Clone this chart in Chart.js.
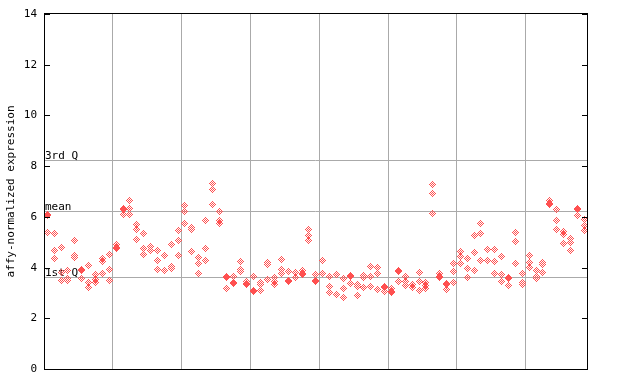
<!DOCTYPE html>
<html>
<head>
<meta charset="utf-8">
<script src="https://cdn.jsdelivr.net/npm/chart.js@4.4.0/dist/chart.umd.min.js"></script>
<style>
html, body { margin: 0; padding: 0; background: #fff; }
</style>
</head>
<body>
<canvas id="chart" width="640" height="384"></canvas>
<script>
// three replicates per sample, read top to bottom (79 samples, 8 groups)
const rep1 = [6.09,5.34,4.79,3.89,5.07,3.94,4.07,3.73,4.37,4.52,
  4.92,6.33,6.64,5.71,5.34,4.84,4.66,4.46,4.91,5.45,
  6.44,5.58,4.40,5.85,7.31,6.21,3.65,3.63,4.24,3.45,
  3.63,3.41,4.20,3.59,4.32,3.85,3.81,3.89,5.50,3.73,
  4.28,3.63,3.73,3.57,3.68,3.33,3.70,4.06,4.00,3.24,
  3.18,3.89,3.66,3.33,3.81,3.41,7.27,3.77,3.39,4.16,
  4.63,4.36,5.26,5.74,4.71,4.71,4.44,3.59,5.38,3.77,
  4.48,3.89,4.20,6.64,6.29,5.42,5.15,6.33,5.89];
const rep2 = [6.05,4.67,3.79,3.56,4.48,3.90,3.42,3.51,4.23,3.94,
  4.79,6.29,6.31,5.50,4.75,4.68,4.26,3.89,4.06,5.05,
  6.21,5.52,4.16,4.75,7.07,5.84,3.61,3.42,3.93,3.39,
  3.10,3.33,4.12,3.44,3.91,3.50,3.61,3.75,5.26,3.50,
  3.77,3.24,2.94,3.18,3.64,3.24,3.61,3.66,3.77,3.20,
  3.06,3.85,3.45,3.22,3.45,3.30,6.92,3.63,3.35,3.85,
  4.44,3.96,4.59,5.34,4.28,4.24,3.73,3.55,5.03,3.41,
  4.20,3.65,4.12,6.54,5.85,5.30,4.99,6.29,5.66];
const rep3 = [5.38,4.37,3.50,3.49,4.39,3.56,3.22,3.42,3.77,3.50,
  4.76,6.09,6.09,5.11,4.52,4.68,3.93,3.89,3.98,4.48,
  5.74,4.63,3.77,4.29,6.48,5.72,3.18,3.38,3.85,3.33,
  3.06,3.08,3.53,3.33,3.75,3.46,3.61,3.71,5.07,3.46,
  3.77,3.00,2.94,2.82,3.37,2.91,3.22,3.24,3.14,3.04,
  3.02,3.45,3.30,3.22,3.10,3.18,6.13,3.59,3.14,3.41,
  4.16,3.61,3.89,4.28,4.28,3.77,3.45,3.30,4.16,3.33,
  4.00,3.57,3.81,6.50,5.50,4.95,4.67,6.05,5.47];

const yTicks = [0, 2, 4, 6, 8, 10, 12, 14];
const groupEdges = [9.5, 19.5, 29.5, 39.5, 49.5, 59.5, 69.5];
const quartileLabels = ["3rd Q", "mean", "1st Q"];
const quartileValues = [8.23, 6.23, 3.63];

const FONT = "'DejaVu Sans Mono', monospace";
const RED = "#ff5050";
const GRID = "#aaaaaa";

// small dotted diamond marker
function makeDiamond(color) {
    const c = document.createElement("canvas");
    c.width = 7;
    c.height = 7;
    const g = c.getContext("2d");
    g.fillStyle = color;
    for (let dy = -3; dy <= 3; dy++) {
        for (let dx = -3; dx <= 3; dx++) {
            if (Math.abs(dx) + Math.abs(dy) <= 3 && (dx + dy + 6) % 2 === 1) {
                g.fillRect(dx + 3, dy + 3, 1, 1);
            }
        }
    }
    return c;
}
const marker = makeDiamond(RED);

function toPoints(arr) {
    return arr.map((v, i) => ({ x: i, y: v }));
}

const framePlugin = {
    id: "frame",
    beforeDatasetsDraw(chart) {
        const ctx = chart.ctx;
        const area = chart.chartArea;
        const ys = chart.scales.y;
        ctx.save();
        ctx.strokeStyle = GRID;
        ctx.lineWidth = 1;
        ctx.fillStyle = "#000";
        ctx.font = "11px " + FONT;
        ctx.textAlign = "left";
        ctx.textBaseline = "alphabetic";
        quartileValues.forEach((v, k) => {
            const py = Math.round(ys.getPixelForValue(v)) + 0.5;
            ctx.beginPath();
            ctx.moveTo(area.left, py);
            ctx.lineTo(area.right, py);
            ctx.stroke();
            ctx.fillText(quartileLabels[k], area.left + 1, py - 1.5);
        });
        ctx.restore();
        ctx.imageSmoothingEnabled = false;
    },
    afterDatasetsDraw(chart) {
        const ctx = chart.ctx;
        const area = chart.chartArea;
        const ys = chart.scales.y;
        ctx.save();
        ctx.strokeStyle = "#000";
        ctx.lineWidth = 1;
        ctx.strokeRect(area.left + 0.5, area.top - 0.5, area.right - area.left, area.bottom - area.top + 1);
        ctx.beginPath();
        ctx.fillStyle = "#000";
        ctx.font = "11px " + FONT;
        ctx.textAlign = "right";
        ctx.textBaseline = "middle";
        yTicks.forEach(t => {
            const py = Math.round(ys.getPixelForValue(t)) + 0.5;
            ctx.moveTo(area.left, py);
            ctx.lineTo(area.left + 6, py);
            ctx.moveTo(area.right + 1, py);
            ctx.lineTo(area.right - 5, py);
            ctx.fillText(String(t), area.left - 7, py);
        });
        ctx.stroke();
        ctx.restore();
    }
};

const dsStyle = {
    pointStyle: marker,
    pointRadius: 3,
    pointHoverRadius: 3,
    showLine: false
};

new Chart(document.getElementById("chart"), {
    type: "scatter",
    data: {
        datasets: [
            Object.assign({ data: toPoints(rep1) }, dsStyle),
            Object.assign({ data: toPoints(rep2) }, dsStyle),
            Object.assign({ data: toPoints(rep3) }, dsStyle)
        ]
    },
    options: {
        responsive: false,
        animation: false,
        devicePixelRatio: 1,
        layout: { padding: { left: 0, top: 14, right: 53, bottom: 15 } },
        plugins: {
            legend: { display: false },
            tooltip: { enabled: false }
        },
        scales: {
            x: {
                type: "linear",
                min: -0.48,
                max: 78.4,
                afterBuildTicks: s => { s.ticks = groupEdges.map(v => ({ value: v })); },
                afterFit: s => { s.height = 0; },
                ticks: { display: false },
                grid: { color: GRID, drawTicks: false },
                border: { display: false }
            },
            y: {
                min: 0,
                max: 14,
                afterBuildTicks: s => { s.ticks = yTicks.map(v => ({ value: v })); },
                afterFit: s => { s.width = 44; },
                grid: { display: false },
                border: { display: false },
                ticks: { display: false },
                title: {
                    display: true,
                    text: "affy-normalized expression",
                    color: "#000",
                    padding: { top: 5, bottom: 0 },
                    font: { family: FONT, size: 11 }
                }
            }
        }
    },
    plugins: [framePlugin]
});
</script>
</body>
</html>
